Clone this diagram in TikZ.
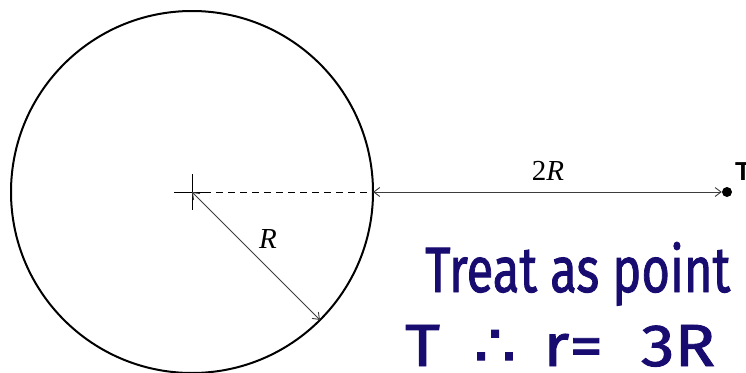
\documentclass[tikz,border=0pt]{standalone}
\usepackage{fontspec}
\setmainfont{Liberation Serif}
\newfontfamily\hwfont[FakeBold=1.5]{Fira Sans}
\newfontfamily\symfont[FakeBold=1.5]{DejaVu Sans}
\newfontfamily\lblfont{Liberation Sans}
\usetikzlibrary{arrows.meta}
\definecolor{hw}{RGB}{24,12,112}
\definecolor{thin}{RGB}{60,60,60}
\begin{document}
\begin{tikzpicture}[x=1pt,y=-1pt,
  dim/.style={line width=0.9pt,draw=thin,{Straight Barb[length=6pt,width=9pt]}-{Straight Barb[length=6pt,width=9pt]}},
  hwtext/.style={inner sep=0pt,anchor=base west,text=hw},
  math/.style={inner sep=0pt,font=\fontsize{29}{33}\selectfont\itshape}]
\useasboundingbox (0,0) rectangle (746,372);
\node[circle,draw,line width=2pt,minimum size=362pt,inner sep=0pt,outer sep=0pt] (C) at (192,192) {};
\coordinate (O) at (192,192);
\draw[thin,line width=0.8pt] (174,192) -- (210,192);
\draw[thin,line width=0.8pt] (192,174) -- (192,210);
\draw[thin,line width=1pt,dashed,dash pattern=on 7pt off 5pt] (O) -- (C.east);
\node[circle,fill=black,inner sep=0pt,minimum size=10pt] (Tp) at (727,192) {};
\draw[dim] (C.east) -- (Tp.west);
\draw[dim] (O) -- (C.-45);
\node[math] (l2R) at (548,171) {\upshape2\itshape R};
\node[math] (lR) at (268,239) {R};
\node[inner sep=0pt,anchor=base west,font=\lblfont\bfseries\fontsize{26}{30}\selectfont] (Tl) at (735,180) {T};
\node[hwtext] (h1) at (425,292) {\resizebox{305pt}{50pt}{\hwfont Treat as point}};
\node[hwtext] (h2) at (405,366) {\resizebox{310pt}{41pt}{\hwfont T\hspace{0.5em}{\symfont ∴}\hspace{0.4em}r= \hspace{0.3em}3R}};
\end{tikzpicture}
\end{document}
